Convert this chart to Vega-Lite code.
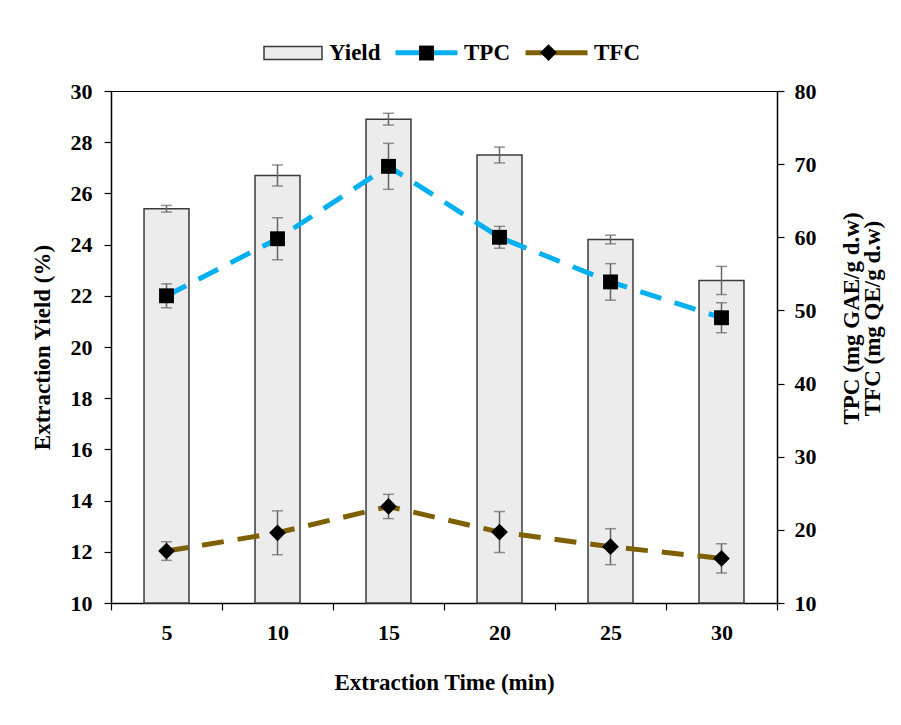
{
  "$schema": "https://vega.github.io/schema/vega-lite/v6.json",
  "width": 666,
  "height": 512,
  "autosize": "none",
  "padding": {"left": 111, "top": 91, "right": 124, "bottom": 122},
  "background": "white",
  "config": {
    "view": {"stroke": "#000", "strokeWidth": 1},
    "font": "Liberation Serif",
    "axis": {
      "grid": false,
      "labelFont": "Liberation Serif",
      "labelFontWeight": "bold",
      "labelFontSize": 22,
      "labelColor": "#000",
      "titleFont": "Liberation Serif",
      "titleFontWeight": "bold",
      "titleFontSize": 23,
      "titleColor": "#000",
      "domainColor": "#000",
      "domainWidth": 1.5,
      "tickColor": "#000",
      "tickWidth": 1.2,
      "tickSize": 7
    },
    "legend": {
      "padding": 0,
      "labelFont": "Liberation Serif",
      "labelFontWeight": "bold",
      "labelFontSize": 23,
      "labelColor": "#000",
      "orient": "none",
      "direction": "horizontal",
      "title": null
    }
  },
  "datasets": {
    "yield": [
      {"time": 5, "yield": 25.4, "yerr": 0.13},
      {"time": 10, "yield": 26.7, "yerr": 0.41},
      {"time": 15, "yield": 28.9, "yerr": 0.23},
      {"time": 20, "yield": 27.5, "yerr": 0.31},
      {"time": 25, "yield": 24.2, "yerr": 0.17},
      {"time": 30, "yield": 22.6, "yerr": 0.55}
    ],
    "phen": [
      {"time": 5, "series": "TPC", "value": 52.0, "err": 1.64},
      {"time": 10, "series": "TPC", "value": 59.8, "err": 2.87},
      {"time": 15, "series": "TPC", "value": 69.7, "err": 3.14},
      {"time": 20, "series": "TPC", "value": 60.0, "err": 1.5},
      {"time": 25, "series": "TPC", "value": 53.9, "err": 2.5},
      {"time": 30, "series": "TPC", "value": 49.0, "err": 2.05},
      {"time": 5, "series": "TFC", "value": 17.1, "err": 1.27},
      {"time": 10, "series": "TFC", "value": 19.6, "err": 3.0},
      {"time": 15, "series": "TFC", "value": 23.2, "err": 1.66},
      {"time": 20, "series": "TFC", "value": 19.7, "err": 2.8},
      {"time": 25, "series": "TFC", "value": 17.7, "err": 2.46},
      {"time": 30, "series": "TFC", "value": 16.1, "err": 2.0}
    ]
  },
  "encoding": {
    "x": {
      "field": "time",
      "type": "ordinal",
      "sort": [5, 10, 15, 20, 25, 30],
      "scale": {"paddingInner": 0, "paddingOuter": 0},
      "axis": {
        "title": "Extraction Time (min)",
        "labelAngle": 0,
        "tickBand": "extent",
        "labelPadding": 12,
        "titlePadding": 28
      }
    }
  },
  "layer": [
    {
      "data": {"name": "yield"},
      "encoding": {
        "y": {
          "field": "yield",
          "type": "quantitative",
          "scale": {"domain": [10, 30], "zero": false, "nice": false},
          "axis": {
            "orient": "left",
            "title": "Extraction Yield (%)",
            "values": [10, 12, 14, 16, 18, 20, 22, 24, 26, 28, 30],
            "labelPadding": 12,
            "titlePadding": 16
          }
        }
      },
      "layer": [
        {
          "mark": {"type": "bar", "fill": "#ececec", "stroke": "#3a3a3a", "strokeWidth": 1.5, "width": {"band": 0.405}},
          "encoding": {
            "y2": {"datum": 10},
            "fill": {
              "datum": "Yield",
              "scale": {"range": ["#ececec"]},
              "legend": {
                "legendX": 152,
                "legendY": -68,
                "symbolType": "M-1,-0.22H1V0.22H-1Z",
                "symbolSize": 3364,
                "symbolStrokeColor": "#3a3a3a",
                "symbolStrokeWidth": 1.5,
                "symbolFillColor": "#ececec",
                "symbolOpacity": 1,
                "labelOffset": 6
              }
            }
          }
        },
        {
          "mark": {"type": "errorbar", "ticks": true, "color": "#666", "size": 11, "thickness": 1.5},
          "encoding": {"yError": {"field": "yerr"}}
        }
      ]
    },
    {
      "data": {"name": "phen"},
      "encoding": {
        "y": {
          "field": "value",
          "type": "quantitative",
          "scale": {"domain": [10, 80], "zero": false, "nice": false},
          "axis": {
            "orient": "right",
            "title": ["TPC (mg GAE/g d.w)", "TFC (mg QE/g d.w)"],
            "titleAngle": -90,
            "titleLineHeight": 21,
            "titleY": 227,
            "values": [10, 20, 30, 40, 50, 60, 70, 80],
            "labelPadding": 10,
            "titlePadding": 26
          }
        }
      },
      "layer": [
        {
          "mark": {"type": "line", "strokeWidth": 5, "strokeDash": [22, 14], "strokeCap": "butt"},
          "encoding": {
            "stroke": {
              "field": "series",
              "type": "nominal",
              "scale": {"domain": ["TPC", "TFC"], "range": ["#00b0f0", "#7f6000"]},
              "legend": {
                "legendX": 282,
                "legendY": -72,
                "symbolType": "M-1,0H1",
                "symbolSize": 3844,
                "symbolStrokeWidth": 5,
                "symbolDash": [1, 0],
                "labelOffset": 4,
                "columnPadding": 5
              }
            }
          }
        },
        {
          "mark": {"type": "errorbar", "ticks": true, "color": "#666", "size": 11, "thickness": 1.5},
          "encoding": {"yError": {"field": "err"}, "detail": {"field": "series"}}
        },
        {
          "mark": {"type": "point", "filled": true, "color": "#000", "opacity": 1, "size": 3844},
          "encoding": {
            "shape": {
              "field": "series",
              "type": "nominal",
              "sort": ["TPC", "TFC"],
              "scale": {"range": ["M-0.24,-0.24H0.24V0.24H-0.24Z", "M0,-0.27L0.27,0L0,0.27L-0.27,0Z"]},
              "legend": {
                "legendX": 282,
                "legendY": -72,
                "symbolSize": 3844,
                "symbolStrokeWidth": 5,
                "symbolFillColor": "#000",
                "symbolStrokeColor": "transparent",
                "labelOffset": 4,
                "columnPadding": 51,
                "labelExpr": "''"
              }
            }
          }
        }
      ]
    }
  ],
  "resolve": {"scale": {"y": "independent"}}
}
